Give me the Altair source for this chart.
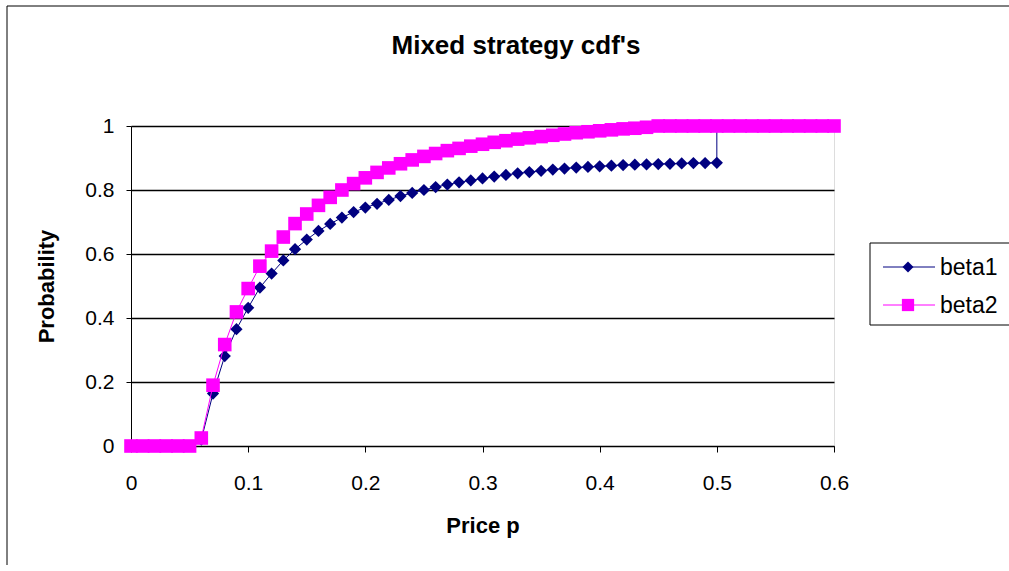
import altair as alt
import pandas as pd

# ---------------- data ----------------
P1 = [0.00, 0.01, 0.02, 0.03, 0.04, 0.05, 0.06, 0.07, 0.08, 0.09,
      0.10, 0.11, 0.12, 0.13, 0.14, 0.15, 0.16, 0.17, 0.18, 0.19,
      0.20, 0.21, 0.22, 0.23, 0.24, 0.25, 0.26, 0.27, 0.28, 0.29,
      0.30, 0.31, 0.32, 0.33, 0.34, 0.35, 0.36, 0.37, 0.38, 0.39,
      0.40, 0.41, 0.42, 0.43, 0.44, 0.45, 0.46, 0.47, 0.48, 0.49,
      0.50, 0.50, 0.51, 0.52, 0.53, 0.54, 0.55, 0.56, 0.57, 0.58,
      0.59, 0.60]
BETA1 = [0, 0, 0, 0, 0, 0, 0.02, 0.164, 0.281, 0.365,
         0.432, 0.495, 0.539, 0.580, 0.615, 0.645, 0.672, 0.694, 0.714, 0.731,
         0.745, 0.757, 0.769, 0.781, 0.791, 0.800, 0.809, 0.817, 0.824, 0.830,
         0.836, 0.842, 0.847, 0.852, 0.856, 0.860, 0.864, 0.867, 0.870, 0.872,
         0.874, 0.876, 0.878, 0.879, 0.880, 0.881, 0.882, 0.883, 0.884, 0.884,
         0.885, 1.0, 1.0, 1.0, 1.0, 1.0, 1.0, 1.0, 1.0, 1.0,
         1.0, 1.0]

P2 = [0.00, 0.01, 0.02, 0.03, 0.04, 0.05, 0.06, 0.07, 0.08, 0.09,
      0.10, 0.11, 0.12, 0.13, 0.14, 0.15, 0.16, 0.17, 0.18, 0.19,
      0.20, 0.21, 0.22, 0.23, 0.24, 0.25, 0.26, 0.27, 0.28, 0.29,
      0.30, 0.31, 0.32, 0.33, 0.34, 0.35, 0.36, 0.37, 0.38, 0.39,
      0.40, 0.41, 0.42, 0.43, 0.44, 0.45, 0.46, 0.47, 0.48, 0.49,
      0.50, 0.51, 0.52, 0.53, 0.54, 0.55, 0.56, 0.57, 0.58, 0.59,
      0.60]
BETA2 = [0, 0, 0, 0, 0, 0, 0.025, 0.190, 0.317, 0.419,
         0.492, 0.562, 0.609, 0.653, 0.695, 0.725, 0.752, 0.777, 0.800, 0.820,
         0.838, 0.855, 0.869, 0.882, 0.894, 0.905, 0.914, 0.923, 0.930, 0.937,
         0.943, 0.949, 0.954, 0.959, 0.963, 0.967, 0.971, 0.975, 0.979, 0.982,
         0.985, 0.988, 0.991, 0.993, 0.996, 1.0, 1.0, 1.0, 1.0, 1.0,
         1.0, 1.0, 1.0, 1.0, 1.0, 1.0, 1.0, 1.0, 1.0, 1.0,
         1.0]

SERIES = ["beta1", "beta2"]
COLORS = ["#000080", "#FF00FF"]
X_TICKS = [0, 0.1, 0.2, 0.3, 0.4, 0.5, 0.6]
Y_TICKS = [0, 0.2, 0.4, 0.6, 0.8, 1.0]

TITLE = "Mixed strategy cdf's"
X_TITLE = "Price p"
Y_TITLE = "Probability"

FONT = "Liberation Sans, Arial, sans-serif"

df1 = pd.DataFrame({"p": P1, "v": BETA1, "i": list(range(len(P1)))})
df2 = pd.DataFrame({"p": P2, "v": BETA2, "i": list(range(len(P2)))})

W, H = 703, 320

xs = alt.Scale(domain=[0, 0.6], nice=False, zero=False)
ys = alt.Scale(domain=[0, 1], nice=False)

x_axis = alt.Axis(values=X_TICKS, format=".1~f", grid=False, title=X_TITLE,
                  domainColor="black", tickColor="black", tickSize=6,
                  labelPadding=20, titlePadding=22, labelFontSize=21,
                  titleFontSize=22, titleFontWeight="bold", labelColor="black",
                  titleColor="black", labelFont=FONT, titleFont=FONT,
                  labelFlush=False)
y_axis = alt.Axis(values=Y_TICKS, format=".1~f", grid=True, gridColor="#000000",
                  gridWidth=1.5, title=Y_TITLE, domainColor="black",
                  tickColor="black", tickSize=5, labelPadding=12,
                  titlePadding=26, labelFontSize=21, titleFontSize=22,
                  titleFontWeight="bold", labelColor="black",
                  titleColor="black", labelFont=FONT, titleFont=FONT,
                  labelFlush=False)


def series_layers(df, color, shape, size):
    base = alt.Chart(df).encode(
        x=alt.X("p:Q", scale=xs, axis=x_axis),
        y=alt.Y("v:Q", scale=ys, axis=y_axis),
        order="i:Q",
    )
    line = base.mark_line(color=color, strokeWidth=1)
    pts = base.mark_point(shape=shape, size=size, filled=True, color=color,
                          opacity=1)
    return [line, pts]


layers = []
layers += series_layers(df1, COLORS[0], "diamond", 150)
layers += series_layers(df2, COLORS[1], "square", 185)

one = pd.DataFrame({"a": [0]})

# ---------- chart title (as text, centred like the reference) ----------
layers.append(alt.Chart(one).mark_text(
    text=TITLE, fontSize=26, fontWeight="bold", font=FONT, color="black",
    align="center", baseline="middle").encode(
    x=alt.value(385), y=alt.value(-80)))

# ---------- legend (manual, Excel-like) ----------
leg_df = pd.DataFrame({"series": SERIES, "color": COLORS})

leg_box = alt.Chart(one).mark_rect(fill="white", stroke="black",
                                   strokeWidth=1).encode(
    x=alt.value(739), x2=alt.value(900), y=alt.value(117), y2=alt.value(199))
layers.append(leg_box)

for k, (name, col, shp) in enumerate(zip(SERIES, COLORS, ["diamond", "square"])):
    yy = 141 + 38 * k
    d = leg_df[leg_df["series"] == name]
    layers.append(alt.Chart(d).mark_rule(color=col, strokeWidth=1).encode(
        x=alt.value(752), x2=alt.value(804), y=alt.value(yy)))
    layers.append(alt.Chart(d).mark_point(shape=shp, filled=True, color=col,
                                          opacity=1,
                                          size=120 if shp == "diamond" else 150
                                          ).encode(
        x=alt.value(777), y=alt.value(yy)))
    layers.append(alt.Chart(d).mark_text(align="left", baseline="middle",
                                         fontSize=23, font=FONT,
                                         color="black").encode(
        x=alt.value(809), y=alt.value(yy + 1), text="series:N"))

# ---------- outer border ----------
border = alt.Chart(one).mark_rect(fill=None, stroke="black",
                                  strokeWidth=1).encode(
    x=alt.value(-124), y=alt.value(-120), x2=alt.value(1200),
    y2=alt.value(1000))
layers.append(border)

chart = alt.layer(*layers).properties(
    width=W, height=H,
    autosize=alt.AutoSizeParams(type="none"),
    padding={"left": 131, "top": 126, "right": 175, "bottom": 119},
).configure_view(
    fill="#C0C0C0", stroke="#808080", strokeWidth=1
).configure(background="white")

chart.save("out.html", embed_options={"renderer": "svg", "actions": False})
